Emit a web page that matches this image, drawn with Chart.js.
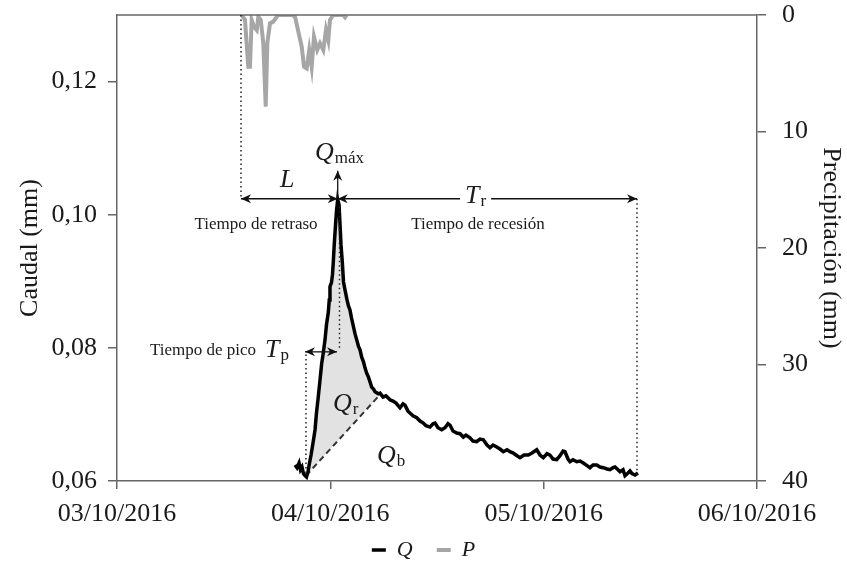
<!DOCTYPE html>
<html>
<head>
<meta charset="utf-8">
<script src="https://cdn.jsdelivr.net/npm/chart.js@4.4.0/dist/chart.umd.min.js"></script>
<style>
  body { margin: 0; background: #fff; }
  #hidrograma { display: block; }
</style>
</head>
<body>
<canvas id="hidrograma" width="847" height="564"></canvas>
<script>
// eje x en horas desde el 03/10/2016 00:00
const xTickHours = [0, 24, 48, 72]
const xTickLabels = ['03/10/2016', '04/10/2016', '05/10/2016', '06/10/2016']
const caudalTicks = [0.06, 0.08, 0.10, 0.12]
const precipTicks = [0, 10, 20, 30, 40]

// caudal Q (mm)
const qHours = [20.03, 20.25, 20.48, 20.64, 20.81, 20.98, 21.15, 21.32, 21.49, 21.6,
    21.83, 22.05, 22.28, 22.44, 22.64, 22.84, 23.03, 23.17, 23.4, 23.57,
    23.77, 23.88, 23.96, 24.13, 24.24, 24.33, 24.44, 24.56, 24.69, 24.83,
    24.98, 25.09, 25.2, 25.35, 25.48, 25.65, 25.88, 26.04, 26.21, 26.38,
    26.55, 26.78, 26.97, 27.17, 27.34, 27.53, 27.73, 27.9, 28.09, 28.29,
    28.46, 28.65, 28.86, 29.03, 29.4, 29.59, 29.93, 30.26, 30.71, 31.05,
    31.39, 31.84, 32.18, 32.4, 32.74, 32.96, 33.3, 33.72, 34.09, 34.46,
    34.76, 35.21, 35.55, 35.78, 36.11, 36.53, 36.9, 37.24, 37.46, 37.8,
    38.22, 38.59, 38.96, 39.26, 39.71, 40.05, 40.47, 40.84, 41.21, 41.63,
    41.96, 42.3, 42.72, 43.09, 43.46, 43.88, 44.21, 44.58, 45.0, 45.34,
    45.79, 46.27, 46.69, 47.22, 47.59, 47.96, 48.38, 48.71, 49.05, 49.47,
    49.84, 50.18, 50.4, 50.74, 50.96, 51.3, 51.72, 52.09, 52.46, 52.88,
    53.21, 53.55, 53.97, 54.34, 54.71, 55.13, 55.46, 55.8, 56.03, 56.36,
    56.59, 56.93, 57.15, 57.49, 57.71, 57.94, 58.28, 58.61]
const qValues = [0.0624, 0.0620, 0.0627, 0.0617, 0.0621, 0.0611, 0.0608, 0.0606, 0.0614, 0.0623,
    0.0639, 0.0657, 0.0677, 0.0702, 0.0726, 0.0752, 0.0777, 0.0789, 0.0812, 0.0835,
    0.0853, 0.0872, 0.0892, 0.0898, 0.0910, 0.0928, 0.0955, 0.0980, 0.1005, 0.1023,
    0.1015, 0.0985, 0.0955, 0.0928, 0.0899, 0.0887, 0.0872, 0.0863, 0.0857, 0.0845,
    0.0835, 0.0821, 0.0812, 0.0802, 0.0797, 0.0786, 0.0779, 0.0770, 0.0762, 0.0756,
    0.0749, 0.0741, 0.0738, 0.0734, 0.0731, 0.0732, 0.0726, 0.0728, 0.0722, 0.0720,
    0.0717, 0.0710, 0.0716, 0.0714, 0.0705, 0.0702, 0.0698, 0.0695, 0.0690, 0.0687,
    0.0683, 0.0681, 0.0686, 0.0687, 0.0680, 0.0677, 0.0680, 0.0686, 0.0684, 0.0675,
    0.0672, 0.0671, 0.0666, 0.0669, 0.0665, 0.0660, 0.0659, 0.0663, 0.0662, 0.0654,
    0.0650, 0.0654, 0.0651, 0.0648, 0.0644, 0.0647, 0.0644, 0.0642, 0.0638, 0.0635,
    0.0639, 0.0639, 0.0642, 0.0647, 0.0639, 0.0635, 0.0641, 0.0639, 0.0633, 0.0632,
    0.0638, 0.0645, 0.0644, 0.0633, 0.0629, 0.0632, 0.0629, 0.0630, 0.0627, 0.0623,
    0.0620, 0.0624, 0.0624, 0.0621, 0.0620, 0.0618, 0.0617, 0.0620, 0.0621, 0.0617,
    0.0614, 0.0617, 0.0608, 0.0612, 0.0615, 0.0611, 0.0609, 0.0612]

// precipitación P (mm), eje derecho invertido
const pHours = [14.03, 14.4, 14.77, 14.96, 15.15, 15.41, 15.72, 15.9, 16.17, 16.46,
    16.73, 16.91, 17.21, 17.58, 17.97, 18.15, 19.65, 20.03, 20.4, 20.78,
    21.04, 21.34, 21.63, 21.9, 22.16, 22.53, 22.84, 23.21, 23.51, 23.77,
    23.96, 24.33, 25.43, 25.65, 25.84]
const pValues = [0, 0.43, 4.44, 4.44, 0.43, 1.0, 1.29, 0.15, 0.43, 2.43,
    7.87, 2.43, 0.72, 0.57, 0.15, 0, 0, 0.15, 1.43, 2.72,
    4.44, 4.58, 3.0, 4.44, 1.86, 3.0, 2.43, 3.0, 1.29, 2.15,
    0.43, 0, 0, 0.2, 0]

// separación del flujo base (línea discontinua)
const baseHours = [21.26, 29.4]
const baseValues = [0.0608, 0.0727]

// posiciones de las anotaciones (horas, caudal)
const tLag = 13.95, tPico = 24.83, tFinRec = 58.5
const qFlecha = 0.1024, qMaxTop = 0.1066
const tTp0 = 21.15, tTp1 = 24.75, qTp = 0.0794

const serif = "'Liberation Serif', 'Times New Roman', serif"
const textColor = '#1a1a1a'
const axisColor = '#666'

function punta(ctx, x, y, dx, dy) {
    const L = 10, W = 4.5
    const bx = x - dx * L, by = y - dy * L
    ctx.beginPath()
    ctx.moveTo(x, y)
    ctx.lineTo(bx - dy * W, by + dx * W)
    ctx.lineTo(x - dx * L * 0.7, y - dy * L * 0.7)
    ctx.lineTo(bx + dy * W, by - dx * W)
    ctx.closePath()
    ctx.fill()
}

function flecha(ctx, x0, y0, x1, y1, ini, fin) {
    ctx.beginPath()
    ctx.moveTo(x0, y0)
    ctx.lineTo(x1, y1)
    ctx.stroke()
    const len = Math.hypot(x1 - x0, y1 - y0)
    const dx = (x1 - x0) / len, dy = (y1 - y0) / len
    if (fin) punta(ctx, x1, y1, dx, dy)
    if (ini) punta(ctx, x0, y0, -dx, -dy)
}

function punteada(ctx, x0, y0, x1, y1) {
    ctx.save()
    ctx.setLineDash([1.5, 3])
    ctx.beginPath()
    ctx.moveTo(x0, y0)
    ctx.lineTo(x1, y1)
    ctx.stroke()
    ctx.restore()
}

function simbolo(ctx, main, sub, x, y, blanco) {
    ctx.font = 'italic 26px ' + serif
    const w = ctx.measureText(main).width
    ctx.font = '17px ' + serif
    const ws = ctx.measureText(sub).width
    if (blanco) {
        ctx.fillStyle = '#fff'
        ctx.fillRect(x - 5, y - 20, w + ws + 11, 26)
        ctx.fillStyle = textColor
    }
    ctx.font = 'italic 26px ' + serif
    ctx.fillText(main, x, y)
    ctx.font = '17px ' + serif
    ctx.fillText(sub, x + w + 1, y + 3)
}

const fondo = {
    id: 'fondo',
    beforeDraw(chart) {
        const ctx = chart.ctx
        ctx.save()
        ctx.fillStyle = '#fff'
        ctx.fillRect(0, 0, chart.width, chart.height)
        ctx.restore()
    }
}

const rellenoQr = {
    id: 'rellenoQr',
    beforeDatasetsDraw(chart) {
        const ctx = chart.ctx
        const sx = chart.scales.x, sy = chart.scales.y
        ctx.save()
        ctx.beginPath()
        ctx.moveTo(sx.getPixelForValue(baseHours[0]), sy.getPixelForValue(baseValues[0]))
        qHours.forEach(function (h, i) {
            if (h > baseHours[0] && h < baseHours[1]) {
                ctx.lineTo(sx.getPixelForValue(h), sy.getPixelForValue(qValues[i]))
            }
        })
        ctx.lineTo(sx.getPixelForValue(baseHours[1]), sy.getPixelForValue(baseValues[1]))
        ctx.closePath()
        ctx.fillStyle = '#e2e2e2'
        ctx.fill()
        ctx.restore()
    }
}

const anotaciones = {
    id: 'anotaciones',
    afterDatasetsDraw(chart) {
        const ctx = chart.ctx
        const area = chart.chartArea
        const px = h => chart.scales.x.getPixelForValue(h)
        const py = q => chart.scales.y.getPixelForValue(q)
        ctx.save()

        // marco superior
        ctx.strokeStyle = axisColor
        ctx.lineWidth = 1.5
        ctx.beginPath()
        ctx.moveTo(area.left, area.top)
        ctx.lineTo(area.right, area.top)
        ctx.stroke()

        // guías punteadas
        ctx.strokeStyle = '#222'
        ctx.lineWidth = 1.5
        punteada(ctx, px(tLag), area.top, px(tLag), py(qFlecha))
        punteada(ctx, px(tFinRec), py(qFlecha), px(tFinRec), py(0.0609))
        punteada(ctx, px(21.26), py(0.0790), px(21.26), py(0.0608))
        punteada(ctx, px(25.03), py(0.1012), px(25.03), py(0.0797))

        // flechas
        ctx.strokeStyle = '#111'
        ctx.fillStyle = '#111'
        ctx.lineWidth = 1.3
        flecha(ctx, px(tLag), py(qFlecha), px(tPico), py(qFlecha), true, true)
        flecha(ctx, px(tPico), py(qFlecha), px(tFinRec), py(qFlecha), true, true)
        flecha(ctx, px(tPico), py(qFlecha), px(tPico), py(qMaxTop), false, true)
        flecha(ctx, px(tTp0), py(qTp), px(tTp1), py(qTp), true, true)

        // símbolos
        ctx.fillStyle = textColor
        ctx.textAlign = 'left'
        ctx.textBaseline = 'alphabetic'
        simbolo(ctx, 'L', '', px(18.34), py(0.10415), true)
        simbolo(ctx, 'T', 'r', px(39.15), py(0.1018), true)
        simbolo(ctx, 'Q', 'máx', px(22.28), py(0.10827), false)
        simbolo(ctx, 'T', 'p', px(16.65), py(0.07865), false)
        simbolo(ctx, 'Q', 'r', px(24.3), py(0.07053), false)
        simbolo(ctx, 'Q', 'b', px(29.25), py(0.06271), false)

        // textos
        ctx.font = '17px ' + serif
        ctx.textAlign = 'center'
        ctx.fillText('Tiempo de retraso', px(15.64), py(0.0979))
        ctx.fillText('Tiempo de recesión', px(40.61), py(0.0979))
        ctx.fillText('Tiempo de pico', px(9.675), py(0.0790))
        ctx.restore()
    }
}

const tickFont = { family: serif, size: 26, lineHeight: 30 / 26 }
const titleFont = { family: serif, size: 26 }

const data = {
    datasets: [{
        label: 'Q',
        data: qHours.map((h, i) => ({ x: h, y: qValues[i] })),
        yAxisID: 'y',
        borderColor: '#000',
        backgroundColor: '#000',
        borderWidth: 3.5,
        pointRadius: 0,
        tension: 0
    }, {
        label: 'P',
        data: pHours.map((h, i) => ({ x: h, y: pValues[i] })),
        yAxisID: 'y2',
        borderColor: '#a6a6a6',
        backgroundColor: '#a6a6a6',
        borderWidth: 4,
        pointRadius: 0,
        tension: 0
    }, {
        label: 'base',
        data: baseHours.map((h, i) => ({ x: h, y: baseValues[i] })),
        yAxisID: 'y',
        borderColor: '#333',
        borderWidth: 2,
        borderDash: [6, 4],
        pointRadius: 0
    }]
}

const config = {
    type: 'line',
    data: data,
    options: {
        responsive: false,
        animation: false,
        events: [],
        layout: { padding: { top: 15, bottom: -7, left: 0, right: 0 } },
        plugins: {
            legend: {
                position: 'bottom',
                labels: {
                    generateLabels: chart => Chart.defaults.plugins.legend.labels.generateLabels(chart)
                        .map(item => {
                            if (item.datasetIndex === 0) item.text = item.text + '\u2002'
                            return item
                        }),
                    filter: item => item.datasetIndex < 2,
                    usePointStyle: true,
                    pointStyle: 'line',
                    pointStyleWidth: 14,
                    padding: 13,
                    color: textColor,
                    font: { family: serif, size: 22, style: 'italic' }
                }
            },
            tooltip: { enabled: false }
        },
        scales: {
            x: {
                type: 'linear',
                min: 0,
                max: 72,
                afterBuildTicks: s => { s.ticks = xTickHours.map(v => ({ value: v })) },
                afterFit: s => { s.height = 45 },
                ticks: {
                    callback: (v, i) => xTickLabels[i],
                    font: tickFont,
                    color: textColor,
                    padding: 10,
                    maxRotation: 0,
                    autoSkip: false
                },
                grid: { drawOnChartArea: false, tickLength: 8, color: axisColor, lineWidth: 1.5 },
                border: { color: axisColor, width: 1.5 }
            },
            y: {
                position: 'left',
                min: 0.06,
                max: 0.13,
                afterBuildTicks: s => { s.ticks = caudalTicks.map(v => ({ value: v })) },
                afterFit: s => { s.width = 117; s.paddingTop = 0; s.paddingBottom = 0 },
                ticks: {
                    callback: v => v.toFixed(2).replace('.', ','),
                    font: tickFont,
                    color: textColor,
                    padding: 11
                },
                title: {
                    display: true,
                    text: 'Caudal (mm)',
                    font: titleFont,
                    color: textColor,
                    padding: { top: 15, bottom: 0 }
                },
                grid: { drawOnChartArea: false, tickLength: 9, color: axisColor, lineWidth: 1.5 },
                border: { color: axisColor, width: 1.5 }
            },
            y2: {
                position: 'right',
                min: 0,
                max: 40,
                reverse: true,
                afterBuildTicks: s => { s.ticks = precipTicks.map(v => ({ value: v })) },
                afterFit: s => { s.width = 90; s.paddingTop = 0; s.paddingBottom = 0 },
                ticks: {
                    font: tickFont,
                    color: textColor,
                    padding: 16
                },
                title: {
                    display: true,
                    text: 'Precipitación (mm)',
                    font: titleFont,
                    color: textColor,
                    padding: { top: 1, bottom: 0 }
                },
                grid: { drawOnChartArea: false, tickLength: 9, color: axisColor, lineWidth: 1.5 },
                border: { color: axisColor, width: 1.5 }
            }
        }
    },
    plugins: [fondo, rellenoQr, anotaciones]
}

const ctx = document.getElementById('hidrograma')
new Chart(ctx, config)
</script>
</body>
</html>
